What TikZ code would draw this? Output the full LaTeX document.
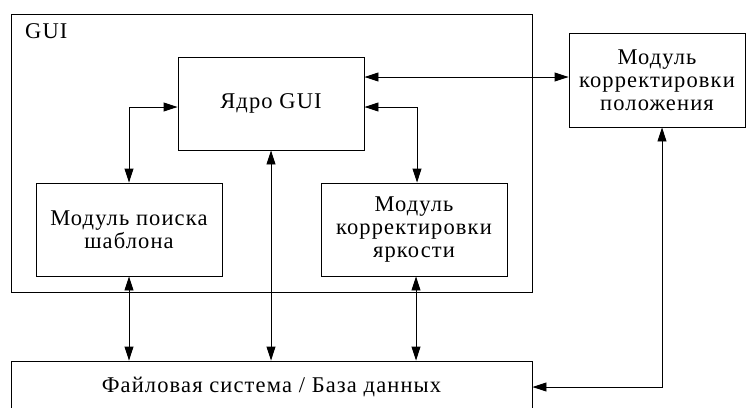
\documentclass[tikz,border=0pt]{standalone}
\usepackage{fontspec}
\setmainfont{Liberation Serif}[LetterSpace=5]
\usetikzlibrary{arrows.meta}
\begin{document}
\begin{tikzpicture}[x=1pt,y=-1pt,
  blk/.style={draw,line width=0.9pt,rectangle,align=center,inner sep=0pt,
    font=\fontsize{22.5}{23}\selectfont},
  dbl/.style={line width=0.9pt,{Triangle[length=14pt,width=9pt]}-{Triangle[length=14pt,width=9pt]}},
  lbl/.style={font=\fontsize{22.5}{23}\selectfont,inner sep=0pt}]
\useasboundingbox (0,0) rectangle (746,407);
\clip (0,0) rectangle (746,407);
\node[blk,minimum width=521pt,minimum height=278pt] (gui) at (271.5,153) {};
\node[lbl,anchor=base west] (guilbl) at (25,38.5) {GUI};
\node[blk,minimum width=186pt,minimum height=93pt] (yadro) at (271,103.5) {Ядро GUI};
\node[blk,minimum width=186pt,minimum height=93pt] (poisk) at (129,229.5) {Модуль поиска\\шаблона};
\node[blk,minimum width=186pt,minimum height=93pt] (yark) at (414,229.5) {Модуль\\корректировки\\яркости};
\node[blk,minimum width=176pt,minimum height=94pt] (polozh) at (657,80) {Модуль\\корректировки\\положения};
\node[blk,minimum width=521pt,minimum height=52pt] (fs) at (271.5,387) {Файловая система / База данных};
\draw[dbl] ([yshift=-3.5pt]yadro.west) -| (poisk.north);
\draw[dbl] ([yshift=-3.5pt]yadro.east) -| ([xshift=3pt]yark.north);
\draw[dbl] ([yshift=26.5pt]yadro.east) -- ([yshift=26.5pt]yadro.east -| polozh.west);
\draw[dbl] (yadro.south) -- (yadro.south |- fs.north);
\draw[dbl] (poisk.south) -- (poisk.south |- fs.north);
\draw[dbl] ([xshift=2pt]yark.south) -- ([xshift=2pt]yark.south |- fs.north);
\draw[dbl] ([xshift=5pt]polozh.south) |- (fs.east);
\end{tikzpicture}
\end{document}
